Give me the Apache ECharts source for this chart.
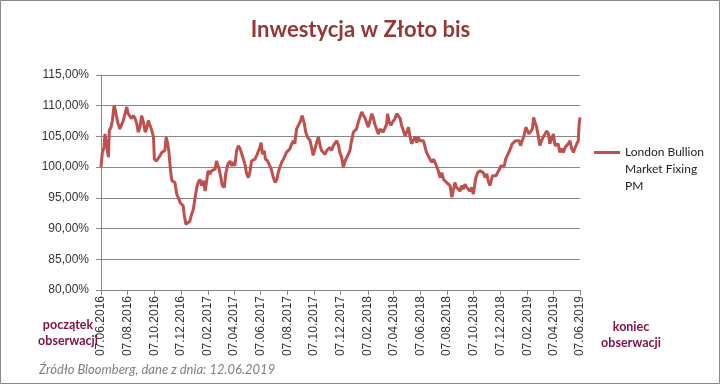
<!DOCTYPE html>
<html><head><meta charset="utf-8">
<script src="https://cdn.jsdelivr.net/npm/echarts@6/dist/echarts.min.js"></script>
<style>html,body{margin:0;padding:0;background:#fff}#c{width:721px;height:385px}</style>
</head><body><div id="c"></div>
<script>
const chartTitle = 'Inwestycja w Złoto bis';
const seriesName = 'London Bullion Market Fixing PM';
const legendLines = ['London Bullion', 'Market Fixing', 'PM'];
const sourceNote = 'Źródło Bloomberg, dane z dnia: 12.06.2019';
const startNote = 'początek\nobserwacji';
const endNote = 'koniec\nobserwacji';

const tickDates = ['2016-06-07','2016-08-07','2016-10-07','2016-12-07','2017-02-07','2017-04-07','2017-06-07','2017-08-07','2017-10-07','2017-12-07','2018-02-07','2018-04-07','2018-06-07','2018-08-07','2018-10-07','2018-12-07','2019-02-07','2019-04-07','2019-06-07'];
const yMin = 80, yMax = 115, yStep = 5;

const dates = [
'2016-06-07','2016-06-10','2016-06-14','2016-06-16','2016-06-20','2016-06-24','2016-06-26','2016-06-30','2016-07-03','2016-07-07','2016-07-10','2016-07-15','2016-07-20','2016-07-24','2016-07-28','2016-08-05','2016-08-08','2016-08-12','2016-08-16','2016-08-20','2016-08-24','2016-08-28','2016-08-31','2016-09-04','2016-09-08','2016-09-12','2016-09-16','2016-09-19','2016-09-23','2016-09-27','2016-10-01','2016-10-05','2016-10-07','2016-10-12','2016-10-16','2016-10-20','2016-10-24','2016-10-27','2016-10-31','2016-11-03','2016-11-06','2016-11-09','2016-11-13','2016-11-16','2016-11-19','2016-11-23','2016-11-27','2016-12-01','2016-12-05','2016-12-08','2016-12-12','2016-12-14','2016-12-18','2016-12-22','2016-12-27','2016-12-31','2017-01-04','2017-01-08','2017-01-12','2017-01-15','2017-01-19','2017-01-23','2017-01-27','2017-01-31','2017-02-04','2017-02-07','2017-02-11','2017-02-15','2017-02-19',
'2017-02-23','2017-02-26','2017-03-04','2017-03-08','2017-03-11','2017-03-16','2017-03-19','2017-03-24','2017-03-29','2017-04-02','2017-04-06','2017-04-09','2017-04-13','2017-04-17','2017-04-21','2017-04-25','2017-04-28','2017-05-02','2017-05-06','2017-05-10','2017-05-14','2017-05-17','2017-05-21','2017-05-25','2017-05-29','2017-06-02','2017-06-05','2017-06-08','2017-06-11','2017-06-15','2017-06-18','2017-06-23','2017-06-26','2017-07-01','2017-07-06','2017-07-10','2017-07-14','2017-07-17','2017-07-21','2017-07-25','2017-07-29','2017-08-02','2017-08-05','2017-08-09','2017-08-13','2017-08-17','2017-08-21','2017-08-24','2017-08-28','2017-09-01','2017-09-05','2017-09-10','2017-09-15','2017-09-18','2017-09-22','2017-09-28','2017-10-02','2017-10-05','2017-10-09','2017-10-13','2017-10-17','2017-10-21','2017-10-24','2017-10-28','2017-11-01','2017-11-05','2017-11-09','2017-11-12','2017-11-16','2017-11-20','2017-11-24',
'2017-11-28','2017-12-02','2017-12-05','2017-12-09','2017-12-13','2017-12-17','2017-12-21','2017-12-24','2017-12-28','2017-12-31','2018-01-03','2018-01-05','2018-01-09','2018-01-12','2018-01-16','2018-01-20','2018-01-24','2018-01-28','2018-02-01','2018-02-04','2018-02-08','2018-02-12','2018-02-16','2018-02-20','2018-02-23','2018-02-27','2018-03-03','2018-03-07','2018-03-11','2018-03-14','2018-03-18','2018-03-22','2018-03-24','2018-03-28','2018-04-01','2018-04-04','2018-04-07','2018-04-10','2018-04-14','2018-04-18','2018-04-22','2018-04-25','2018-04-29','2018-05-03','2018-05-07','2018-05-11','2018-05-14','2018-05-18','2018-05-22','2018-05-26','2018-05-30','2018-06-02','2018-06-06','2018-06-10','2018-06-14','2018-06-18','2018-06-21','2018-06-25','2018-06-29','2018-07-03','2018-07-07','2018-07-11','2018-07-14','2018-07-18','2018-07-22','2018-07-26','2018-07-30','2018-08-02','2018-08-06','2018-08-10','2018-08-14','2018-08-18','2018-08-21',
'2018-08-25','2018-08-29','2018-09-02','2018-09-06','2018-09-09','2018-09-13','2018-09-17','2018-09-21','2018-09-25','2018-09-28','2018-10-02','2018-10-06','2018-10-10','2018-10-12','2018-10-16','2018-10-21','2018-10-25','2018-10-29','2018-11-02','2018-11-06','2018-11-09','2018-11-13','2018-11-16','2018-11-19','2018-11-23','2018-11-27','2018-12-01','2018-12-05','2018-12-08','2018-12-12','2018-12-16','2018-12-19','2018-12-23','2018-12-27','2018-12-30','2019-01-03','2019-01-07','2019-01-11','2019-01-15','2019-01-19','2019-01-22','2019-01-26','2019-01-30','2019-02-03','2019-02-07','2019-02-10','2019-02-14','2019-02-18','2019-02-21','2019-02-24','2019-02-28','2019-03-04','2019-03-07','2019-03-11','2019-03-15','2019-03-19','2019-03-23','2019-03-27','2019-03-30','2019-04-03','2019-04-07','2019-04-11','2019-04-15','2019-04-18','2019-04-22','2019-04-26','2019-04-30','2019-05-04','2019-05-08','2019-05-11','2019-05-15','2019-05-19','2019-05-23','2019-05-27','2019-05-30','2019-06-03','2019-06-05','2019-06-07'
];

const values = [
100.0,102.4,103.2,105.4,103.5,101.6,106.0,106.5,107.6,110.1,109.2,107.3,106.2,106.0,107.6,109.8,108.7,109.0,107.9,108.4,107.9,107.0,105.7,106.5,108.4,107.3,105.7,106.2,107.6,107.3,106.0,104.9,101.3,101.0,101.0,101.9,102.4,102.1,102.7,104.9,104.0,102.7,99.4,97.8,98.0,97.5,95.6,95.0,94.2,94.0,93.7,92.3,90.7,91.0,91.2,92.3,93.1,95.0,96.7,97.5,98.0,97.0,97.8,96.1,98.0,99.4,98.9,99.4,99.7,
99.7,101.0,99.7,98.3,97.0,96.7,98.9,100.5,101.0,100.2,100.8,100.2,102.7,103.5,103.0,102.1,102.1,100.5,98.9,98.3,99.4,101.0,101.3,101.3,101.9,102.1,103.2,104.0,102.1,102.7,101.3,101.0,101.0,99.7,98.3,97.5,98.0,99.1,100.0,100.8,101.3,101.9,102.4,102.1,103.0,103.8,104.3,103.8,106.2,106.8,107.3,108.4,107.0,105.7,104.9,104.3,103.0,101.9,101.6,104.0,104.9,103.5,102.7,102.4,102.1,102.7,103.0,103.2,102.7,103.5,103.8,
104.3,103.5,102.4,101.6,100.0,101.0,101.6,101.9,102.7,104.0,104.0,105.7,106.0,106.2,107.3,107.6,109.0,108.4,107.9,107.3,106.5,107.6,108.7,107.9,107.0,107.3,105.4,106.2,106.5,105.7,105.4,107.0,108.7,107.3,106.8,107.3,107.0,107.9,108.7,108.8,107.9,106.8,106.0,105.1,105.7,106.5,105.1,103.8,103.8,104.9,104.0,104.9,104.3,104.6,104.3,104.6,102.4,102.1,101.3,100.8,101.3,101.6,100.2,99.4,98.3,99.1,98.0,97.8,97.5,97.8,97.0,95.1,96.1,
97.5,96.7,97.0,96.1,97.0,96.4,97.2,96.7,97.0,96.1,96.7,95.6,95.9,98.3,99.1,99.4,99.1,99.1,98.3,98.9,97.8,97.0,97.8,98.6,98.9,98.6,98.3,99.7,100.2,100.0,100.2,101.3,101.9,101.6,103.0,103.8,104.0,104.3,104.0,104.3,103.5,103.8,105.1,106.5,106.2,105.4,105.7,106.2,108.1,107.3,106.5,104.9,103.5,104.3,104.9,105.4,105.9,105.4,103.8,104.6,105.4,103.5,103.2,103.8,102.4,103.0,102.4,103.2,103.0,103.8,104.3,103.0,102.4,103.2,103.0,104.3,107.0,108.1
];

const toTime = s => { const p = s.split('-').map(Number); return new Date(p[0], p[1] - 1, p[2]).getTime(); };
const pad = n => String(n).padStart(2, '0');
const fmtDate = t => { const d = new Date(t); return pad(d.getDate()) + '.' + pad(d.getMonth() + 1) + '.' + d.getFullYear(); };
const fmtPct = v => v.toFixed(2).replace('.', ',') + '%';

const n = Math.min(dates.length, values.length);
const seriesData = [];
for (let i = 0; i < n; i++) seriesData.push([toTime(dates[i]), values[i]]);
const tickTimes = tickDates.map(toTime);

const axisColor = '#868686';
const labelFont = 'Liberation Sans';
const lineColor = '#C0504D';
const noteColor = '#7F0F45';

const chart = echarts.init(document.getElementById('c'), null, {renderer: 'canvas'});
chart.setOption({
  animation: false,
  backgroundColor: '#fff',
  title: {
    text: chartTitle, left: 'center', top: 14,
    textStyle: {fontFamily: 'Lato', fontWeight: 'bold', fontSize: 22, color: '#953735'}
  },
  grid: {left: 101, right: 141, top: 75, bottom: 95},
  legend: {
    data: [seriesName], left: 594, top: 110, padding: 0, orient: 'vertical',
    icon: 'rect', itemWidth: 26, itemHeight: 3,
    itemStyle: {color: lineColor},
    formatter: () => '\n\n' + legendLines.join('\n'),
    textStyle: {fontFamily: 'Lato', fontSize: 12, color: '#222', lineHeight: 17}
  },
  xAxis: {
    type: 'value', min: tickTimes[0], max: tickTimes[tickTimes.length - 1], scale: true,
    axisLine: {lineStyle: {color: axisColor}},
    axisTick: {show: true, customValues: tickTimes, length: 5, lineStyle: {color: axisColor}},
    axisLabel: {customValues: tickTimes, rotate: 90, formatter: fmtDate, margin: 6,
      fontFamily: labelFont, fontSize: 12, color: '#333'},
    splitLine: {show: false}
  },
  yAxis: {
    type: 'value', min: yMin, max: yMax, interval: yStep,
    axisLine: {show: true, lineStyle: {color: axisColor}},
    axisTick: {show: true, length: 5, lineStyle: {color: axisColor}},
    axisLabel: {formatter: fmtPct, margin: 12, fontFamily: labelFont, fontSize: 12, color: '#333'},
    splitLine: {show: true, lineStyle: {color: axisColor, width: 1}}
  },
  series: [{
    type: 'line', name: seriesName, data: seriesData, symbol: 'none', showSymbol: false,
    lineStyle: {color: lineColor, width: 3}, itemStyle: {color: lineColor}
  }],
  graphic: [
    {type: 'rect', silent: true, z: -10, shape: {x: 0.5, y: 0.5, width: 719, height: 383},
      style: {fill: null, stroke: '#898989', lineWidth: 1}},
    {type: 'text', silent: true, x: 68, y: 333,
      style: {text: startNote, align: 'center', verticalAlign: 'middle', fontFamily: 'Lato', fontWeight: 'bold', fontSize: 12.5, lineHeight: 16, fill: noteColor}},
    {type: 'text', silent: true, x: 631, y: 335,
      style: {text: endNote, align: 'center', verticalAlign: 'middle', fontFamily: 'Lato', fontWeight: 'bold', fontSize: 12.5, lineHeight: 16, fill: noteColor}},
    {type: 'text', silent: true, x: 39, y: 370,
      style: {text: sourceNote, align: 'left', verticalAlign: 'middle', fontFamily: 'Lato', fontStyle: 'italic', fontSize: 13, fill: '#7f7f7f'}}
  ]
});
</script>
</body></html>
